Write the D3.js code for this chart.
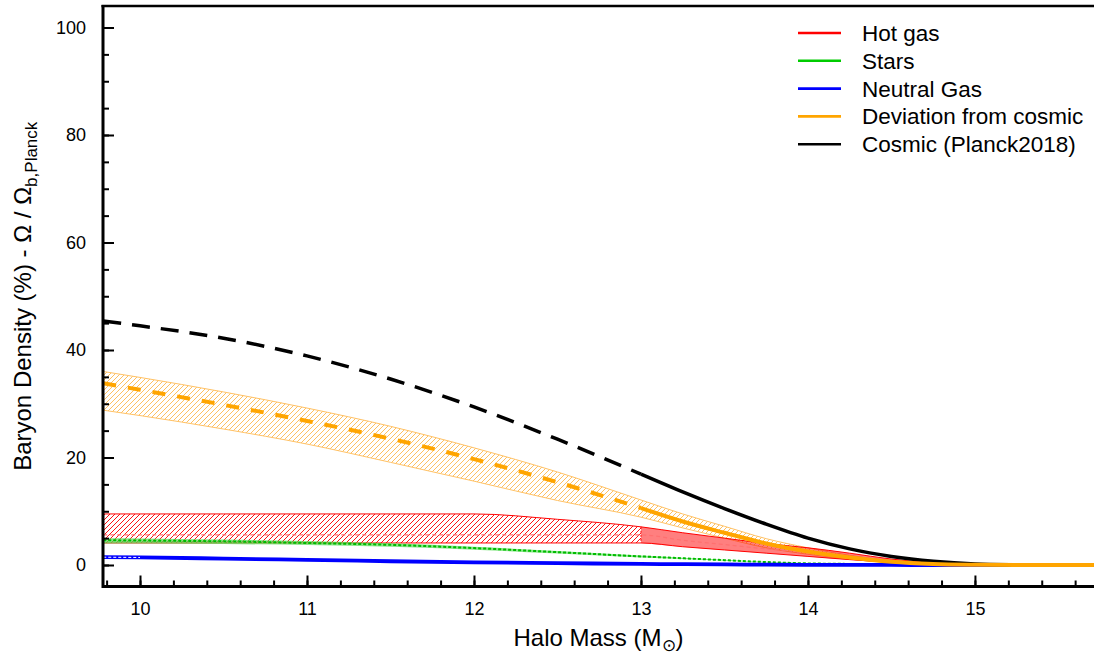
<!DOCTYPE html>
<html>
<head>
<meta charset="utf-8">
<script src="https://cdn.jsdelivr.net/npm/d3@7"></script>
<style>
  body { margin: 0; background: #fff; }
  svg text { font-family: "Liberation Sans", Arial, Helvetica, sans-serif; fill: #000; }
</style>
</head>
<body>
<div id="chart"></div>
<script>
var svgWidth = 1094;
var svgHeight = 654;
var margin = { top: 6, right: 0, bottom: 67.5, left: 103 };
var width = svgWidth - margin.left - margin.right;
var height = svgHeight - margin.top - margin.bottom;

// halo mass grid (log10 M_sun); index 7 = 13.0 where measurements start
var mass = [9.78, 10, 10.5, 11, 11.5, 12, 12.5, 13, 13.25, 13.5, 13.75, 14, 14.25, 14.5, 14.75, 15, 15.25, 15.5, 15.72];

var cosmic   = [45.4, 44.5, 42.2, 38.9, 34.6, 29.4, 23.4, 16.9, 13.6, 10.5, 7.6, 5.0, 3.0, 1.6, 0.7, 0.2, 0.05, 0, 0];
var devMid   = [33.8, 32.6, 29.8, 26.8, 23.5, 19.7, 15.4, 10.6, 8.1, 6.0, 4.0, 2.5, 1.4, 0.6, 0.2, 0.05, 0, 0, 0];
var devHi    = [36.0, 34.9, 32.2, 29.2, 25.8, 21.8, 17.3, 12.1, 9.5, 7.2, 4.9, 3.2, 1.8, 0.8, 0.3, 0.05, 0, 0, 0];
var devLo    = [28.8, 27.8, 25.3, 22.5, 19.1, 15.6, 12.0, 8.9, 6.9, 5.0, 3.2, 2.0, 1.1, 0.4, 0.1, 0, 0, 0, 0];
var hotMid   = [5.6, 5.6, 5.6, 5.6, 5.6, 5.6, 5.6, 5.6, 4.6, 3.8, 3.0, 2.4, 1.6, 0.8, 0.3, 0.07, 0, 0, 0];
var hotHi    = [9.5, 9.5, 9.5, 9.5, 9.5, 9.5, 8.5, 7.1, 6.0, 5.0, 4.0, 3.2, 2.2, 1.1, 0.4, 0.1, 0, 0, 0];
var hotLo    = [4.1, 4.1, 4.1, 4.1, 4.1, 4.1, 4.1, 4.1, 3.4, 2.8, 2.2, 1.6, 1.0, 0.5, 0.2, 0.05, 0, 0, 0];
var starMid  = [4.6, 4.55, 4.4, 4.1, 3.75, 3.15, 2.4, 1.6, 1.25, 0.9, 0.55, 0.3, 0.2, 0.1, 0.05, 0, 0, 0, 0];
var starHi   = [5.0, 4.95, 4.75, 4.45, 4.05, 3.4, 2.6, 1.75, 1.36, 0.98, 0.6, 0.33, 0.22, 0.11, 0.05, 0, 0, 0, 0];
var starLo   = [4.0, 4.0, 3.9, 3.7, 3.4, 2.85, 2.15, 1.4, 1.12, 0.8, 0.5, 0.27, 0.18, 0.09, 0.04, 0, 0, 0, 0];
var neutral  = [1.45, 1.4, 1.2, 0.95, 0.7, 0.5, 0.35, 0.2, 0.15, 0.1, 0.06, 0.03, 0.02, 0.01, 0, 0, 0, 0, 0];

var yMajor = [0, 20, 40, 60, 80, 100];
var yMinor = d3.range(0, 105, 5);
var xMajor = [10, 11, 12, 13, 14, 15];
var xMinor = d3.range(9.8, 15.75, 0.2);

var legendLabels = ["Hot gas", "Stars", "Neutral Gas", "Deviation from cosmic", "Cosmic (Planck2018)"];
var legendColors = ["#ff0000", "#00cc00", "#0000ff", "#ffa500", "#000000"];

var rows = mass.map(function(m, i) {
  return { m: m, cosmic: cosmic[i], devMid: devMid[i], devHi: devHi[i], devLo: devLo[i],
           hotMid: hotMid[i], hotHi: hotHi[i], hotLo: hotLo[i],
           starMid: starMid[i], starHi: starHi[i], starLo: starLo[i], neutral: neutral[i] };
});
var extrap = rows.filter(function(d) { return d.m <= 13; });
var measured = rows.filter(function(d) { return d.m >= 13; });
var early = rows.filter(function(d) { return d.m <= 10; });

var svg = d3.select("#chart")
  .append("svg")
  .attr("width", svgWidth)
  .attr("height", svgHeight);

var defs = svg.append("defs");
function hatch(id, color, w) {
  var p = defs.append("pattern")
    .attr("id", id)
    .attr("patternUnits", "userSpaceOnUse")
    .attr("width", 5).attr("height", 5);
  p.append("path")
    .attr("d", "M0,5 L5,0 M-1,1 L1,-1 M4,6 L6,4")
    .attr("stroke", color)
    .attr("stroke-width", w);
}
hatch("hatchOrange", "#ffb84d", 0.9);
hatch("hatchRed", "#ff1010", 1);

defs.append("clipPath").attr("id", "plotClip")
  .append("rect").attr("width", width).attr("height", height);

var chartGroup = svg.append("g")
  .attr("transform", `translate(${margin.left}, ${margin.top})`);

var xScale = d3.scaleLinear().domain([9.7784, 15.713]).range([0, width]);
var yScale = d3.scaleLinear().domain([-4, 104]).range([height, 0]);

var plot = chartGroup.append("g").attr("clip-path", "url(#plotClip)");

function band(lo, hi) {
  return d3.area().curve(d3.curveMonotoneX)
    .x(d => xScale(d.m)).y0(d => yScale(d[lo])).y1(d => yScale(d[hi]));
}
function line(key) {
  return d3.line().curve(d3.curveMonotoneX)
    .x(d => xScale(d.m)).y(d => yScale(d[key]));
}

// deviation from cosmic band
plot.append("path").datum(rows).attr("d", band("devLo", "devHi"))
  .attr("fill", "url(#hatchOrange)").attr("stroke", "none");
["devLo", "devHi"].forEach(function(k) {
  plot.append("path").datum(rows).attr("d", line(k))
    .attr("fill", "none").attr("stroke", "#ffc266").attr("stroke-width", 1);
});

// hot gas band: hatched where extrapolated, filled above 10^13
plot.append("path").datum(extrap).attr("d", band("hotLo", "hotHi"))
  .attr("fill", "url(#hatchRed)");
plot.append("path").datum(measured).attr("d", band("hotLo", "hotHi"))
  .attr("fill", "#ff0000").attr("fill-opacity", 0.5);
["hotLo", "hotHi"].forEach(function(k) {
  plot.append("path").datum(rows).attr("d", line(k))
    .attr("fill", "none").attr("stroke", "#ff0000").attr("stroke-width", 1);
});
plot.append("path").datum(rows).attr("d", line("hotMid"))
  .attr("fill", "none").attr("stroke", "#ff7070").attr("stroke-width", 1.2)
  .attr("stroke-dasharray", "4,3");
plot.append("line")
  .attr("x1", xScale(13)).attr("x2", xScale(13))
  .attr("y1", yScale(hotHi[7])).attr("y2", yScale(hotLo[7]))
  .attr("stroke", "#ff0000").attr("stroke-width", 1).attr("stroke-dasharray", "2,2");

// stars
plot.append("path").datum(rows).attr("d", band("starLo", "starHi"))
  .attr("fill", "#55dd55").attr("fill-opacity", 0.7);
plot.append("path").datum(rows).attr("d", line("starMid"))
  .attr("fill", "none").attr("stroke", "#00bb00").attr("stroke-width", 2)
  .attr("stroke-dasharray", "3,2");

// neutral gas
plot.append("path").datum(rows).attr("d", line("neutral"))
  .attr("fill", "none").attr("stroke", "#0000ff").attr("stroke-width", 3.8);
plot.append("path").datum(early).attr("d", line("neutral"))
  .attr("fill", "none").attr("stroke", "#ffffff").attr("stroke-width", 1)
  .attr("stroke-dasharray", "3,2");

// cosmic line: dashed where extrapolated, solid above 10^13
plot.append("path").datum(extrap).attr("d", line("cosmic"))
  .attr("fill", "none").attr("stroke", "#000").attr("stroke-width", 3.5)
  .attr("stroke-dasharray", "18,11");
plot.append("path").datum(measured).attr("d", line("cosmic"))
  .attr("fill", "none").attr("stroke", "#000").attr("stroke-width", 3.5);

// deviation centre line
plot.append("path").datum(extrap).attr("d", line("devMid"))
  .attr("fill", "none").attr("stroke", "#ffa500").attr("stroke-width", 4)
  .attr("stroke-dasharray", "13,12");
plot.append("path").datum(measured).attr("d", line("devMid"))
  .attr("fill", "none").attr("stroke", "#ffa500").attr("stroke-width", 4);

// axes
chartGroup.append("g")
  .call(d3.axisLeft(yScale).tickValues(yMinor).tickSize(-6).tickFormat(""));
chartGroup.append("g")
  .call(d3.axisLeft(yScale).tickValues(yMajor).tickSize(-11).tickPadding(17));
chartGroup.append("g")
  .attr("transform", `translate(0, ${height})`)
  .call(d3.axisBottom(xScale).tickValues(xMinor).tickSize(-6).tickFormat(""));
chartGroup.append("g")
  .attr("transform", `translate(0, ${height})`)
  .call(d3.axisBottom(xScale).tickValues(xMajor).tickSize(-11).tickPadding(15.5).tickFormat(d3.format("d")));

chartGroup.selectAll(".domain").remove();
chartGroup.selectAll(".tick line").attr("stroke", "#000").attr("stroke-width", 2);
chartGroup.selectAll(".tick text").style("font-size", "18px");

chartGroup.append("line").attr("x1", 0).attr("x2", width).attr("y1", height).attr("y2", height)
  .attr("stroke", "#000").attr("stroke-width", 3);
chartGroup.append("line").attr("x1", 0).attr("x2", 0).attr("y1", -1).attr("y2", height + 1.5)
  .attr("stroke", "#000").attr("stroke-width", 3);
chartGroup.append("line").attr("x1", -1.5).attr("x2", width).attr("y1", 0).attr("y2", 0)
  .attr("stroke", "#000").attr("stroke-width", 2.5);

// axis titles
var xTitle = svg.append("text")
  .attr("x", margin.left + width / 2)
  .attr("y", 646)
  .attr("text-anchor", "middle")
  .style("font-size", "24px");
xTitle.append("tspan").text("Halo Mass (M");
xTitle.append("tspan").attr("dy", 5).style("font-size", "17px").text("\u2299");
xTitle.append("tspan").attr("dy", -5).text(")");

var yTitle = svg.append("text")
  .attr("transform", `translate(31, ${margin.top + height / 2}) rotate(-90)`)
  .attr("text-anchor", "middle")
  .style("font-size", "24px");
yTitle.append("tspan").text("Baryon Density (%) - \u03a9 / \u03a9");
yTitle.append("tspan").attr("dy", 6).style("font-size", "17px").text("b,Planck");

// legend
var legend = svg.append("g").attr("transform", "translate(798, 33)");
legendLabels.forEach(function(label, i) {
  var g = legend.append("g").attr("transform", `translate(0, ${i * 27.8})`);
  g.append("line").attr("x1", 0).attr("x2", 43).attr("y1", 0).attr("y2", 0)
    .attr("stroke", legendColors[i]).attr("stroke-width", 2.6);
  g.append("text").attr("x", 64).attr("y", 8)
    .style("font-size", "22.5px").text(label);
});
</script>
</body>
</html>
